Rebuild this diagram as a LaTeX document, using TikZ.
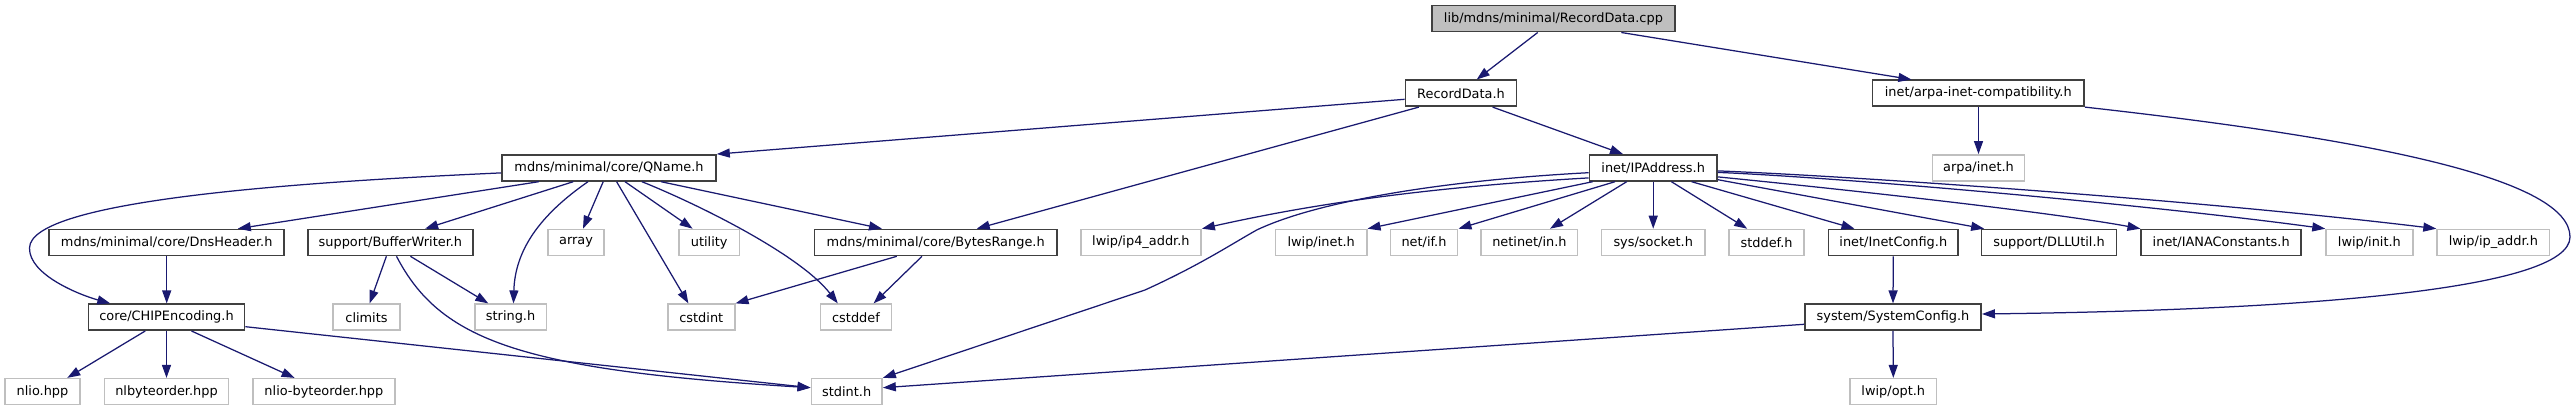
\documentclass[tikz,border=0pt]{standalone}
\usepackage{fontspec}
\setmainfont{DejaVu Sans}
\usetikzlibrary{arrows.meta}
\definecolor{edgec}{HTML}{191970}
\definecolor{boxc}{HTML}{404040}
\definecolor{missc}{HTML}{BFBFBF}
\begin{document}
\begin{tikzpicture}[x=1pt,y=-1pt,
  box/.style={draw=boxc,line width=1.6pt,minimum height=26pt,inner sep=0pt,font=\fontsize{12.9}{15}\selectfont,text=black},
  miss/.style={box,draw=missc},
  root/.style={box,fill=missc},
  dep/.style={draw=edgec,line width=1.25pt,-{Triangle[length=13pt,width=9pt]}}]
\fill[white] (0,0) rectangle (2576,411);
\useasboundingbox (0,0) rectangle (2576,411);
% row 0
\node[root,minimum width=243.3pt] (top) at (1553.4,18.7) {lib/mdns/minimal/RecordData.cpp};
% row 1
\node[box,minimum width=111.2pt] (rd) at (1461,93.3) {RecordData.h};
\node[box,minimum width=211.4pt] (arpa) at (1978.3,93.3) {inet/arpa-inet-compatibility.h};
% row 2
\node[box,minimum width=214pt] (qname) at (609,167.9) {mdns/minimal/core/QName.h};
\node[box,minimum width=127.5pt] (ipaddr) at (1653.2,167.9) {inet/IPAddress.h};
\node[miss,minimum width=92.2pt] (arpainet) at (1978.5,167.9) {arpa/inet.h};
% row 3
\node[box,minimum width=234.9pt] (dns) at (166.7,242.5) {mdns/minimal/core/DnsHeader.h};
\node[box,minimum width=165.4pt] (bw) at (390.4,242.5) {support/BufferWriter.h};
\node[miss,minimum width=56pt] (array) at (576,242.5) {array};
\node[miss,minimum width=60.2pt] (utility) at (709.2,242.5) {utility};
\node[box,minimum width=242.8pt] (bytes) at (935.7,242.5) {mdns/minimal/core/BytesRange.h};
\node[miss,minimum width=120.4pt] (ip4) at (1140.9,242.5) {lwip/ip4\_addr.h};
\node[miss,minimum width=91.1pt] (lwipinet) at (1321.2,242.5) {lwip/inet.h};
\node[miss,minimum width=67.3pt] (netif) at (1424,242.5) {net/if.h};
\node[miss,minimum width=96.4pt] (netinet) at (1529.4,242.5) {netinet/in.h};
\node[miss,minimum width=103.1pt] (syssock) at (1653.2,242.5) {sys/socket.h};
\node[miss,minimum width=74.9pt] (stddefh) at (1766.6,242.5) {stddef.h};
\node[box,minimum width=129.6pt] (inetcfg) at (1893.3,242.5) {inet/InetConfig.h};
\node[box,minimum width=134.7pt] (dll) at (2049,242.5) {support/DLLUtil.h};
\node[box,minimum width=159.9pt] (iana) at (2221.2,242.5) {inet/IANAConstants.h};
\node[miss,minimum width=86.7pt] (init) at (2369.4,242.5) {lwip/init.h};
\node[miss,minimum width=112.4pt] (ipaddrh) at (2493.3,242.5) {lwip/ip\_addr.h};
% row 4
\node[box,minimum width=156.1pt] (chip) at (166.5,317.2) {core/CHIPEncoding.h};
\node[miss,minimum width=67pt] (climits) at (366.5,317.2) {climits};
\node[miss,minimum width=71.5pt] (stringh) at (510.6,317.2) {string.h};
\node[miss,minimum width=66.9pt] (cstdint) at (701.3,317.2) {cstdint};
\node[miss,minimum width=70.7pt] (cstddef) at (856,317.2) {cstddef};
\node[box,minimum width=176.3pt] (syscfg) at (1893,317.2) {system/SystemConfig.h};
% row 5
\node[miss,minimum width=75pt] (nlio) at (42.5,391.7) {nlio.hpp};
\node[miss,minimum width=124.2pt] (nlbyte) at (166.5,391.7) {nlbyteorder.hpp};
\node[miss,minimum width=141.8pt] (nliobyte) at (323.9,391.7) {nlio-byteorder.hpp};
\node[miss,minimum width=70.7pt] (stdint) at (846.7,391.7) {stdint.h};
\node[miss,minimum width=86.7pt] (opt) at (1893.3,391.7) {lwip/opt.h};
% edges
\draw[dep] ([xshift=-15.7pt]top.south) -- ([xshift=15.7pt]rd.north);
\draw[dep] ([xshift=67.9pt]top.south) -- ([xshift=-66.9pt]arpa.north);
\draw[dep] ([yshift=-6pt]rd.west) -- (qname.north east);
\draw[dep] ([xshift=-42.1pt]rd.south) -- ([xshift=41pt]bytes.north);
\draw[dep] ([xshift=31.6pt]rd.south) -- ([xshift=-30.2pt]ipaddr.north);
\draw[dep] (arpa.south -| arpainet) -- (arpainet.north);
\draw[dep] (arpa.south east) .. controls (2380,140) and (2570,180) .. (2570,237) .. controls (2570,290) and (2300,310) .. ([yshift=3.2pt]syscfg.east);
\draw[dep] ([yshift=-5pt]qname.west) .. controls (300,182) and (30,200) .. (29.5,248) .. controls (29,275) and (80,295) .. ([xshift=-56.2pt]chip.north);
\draw[dep] ([xshift=-70.2pt]qname.south) -- ([xshift=71.1pt]dns.north);
\draw[dep] ([xshift=-35.7pt]qname.south) -- ([xshift=34.7pt]bw.north);
\draw[dep] ([xshift=-21pt]qname.south) .. controls (540,215) and (515,250) .. ([xshift=2.9pt]stringh.north);
\draw[dep] ([xshift=-5.8pt]qname.south) -- ([xshift=7pt]array.north);
\draw[dep] ([xshift=7.6pt]qname.south) -- ([xshift=-12.9pt]cstdint.north);
\draw[dep] ([xshift=16pt]qname.south) -- ([xshift=-16.6pt]utility.north);
\draw[dep] ([xshift=32.9pt]qname.south) .. controls (700,205) and (800,255) .. ([xshift=-18.2pt]cstddef.north);
\draw[dep] ([xshift=52pt]qname.south) -- ([xshift=-53.7pt]bytes.north);
\draw[dep] (dns.south) -- (dns.south |- chip.north);
\draw[dep] ([xshift=-4pt]bw.south) -- ([xshift=3.1pt]climits.north);
\draw[dep] ([xshift=20pt]bw.south) -- ([xshift=-22.3pt]stringh.north);
\draw[dep] ([xshift=6.1pt]bw.south) .. controls (440,340) and (520,370) .. ([yshift=4pt]stdint.west);
\draw[dep] ([xshift=-21.3pt]chip.south) -- ([xshift=24.8pt]nlio.north);
\draw[dep] (chip.south) -- (nlbyte.north);
\draw[dep] ([xshift=25pt]chip.south) -- ([xshift=-29.3pt]nliobyte.north);
\draw[dep] ([yshift=-9.5pt]chip.east) -- ([yshift=4pt]stdint.west);
\draw[dep] ([xshift=-38.9pt]bytes.south) -- (cstdint.north east);
\draw[dep] ([xshift=-13.7pt]bytes.south) -- ([xshift=17.6pt]cstddef.north);
\draw[dep] ([yshift=-10pt]ipaddr.west) .. controls (1450,186) and (1330,200) .. (ip4.north east);
\draw[dep] ([yshift=-4.8pt]ipaddr.west) .. controls (1450,180) and (1320,200) .. (1256.7,230) .. controls (1230,245) and (1200,265) .. (1145,290) -- (stdint.north east);
\draw[dep] ([xshift=4pt]ipaddr.south west) -- (lwipinet.north east);
\draw[dep] ([xshift=-38.2pt]ipaddr.south) -- (netif.north east);
\draw[dep] ([xshift=-26.5pt]ipaddr.south) -- ([xshift=20.6pt]netinet.north);
\draw[dep] (ipaddr.south) -- (syssock.north);
\draw[dep] ([xshift=18.2pt]ipaddr.south) -- ([xshift=-19.4pt]stddefh.north);
\draw[dep] ([xshift=38.4pt]ipaddr.south) -- ([xshift=-38.8pt]inetcfg.north);
\draw[dep] ([yshift=2pt]ipaddr.south east) -- ([xshift=3.3pt]dll.north west);
\draw[dep] ([yshift=-9pt]ipaddr.east) .. controls (1850,190) and (2050,212) .. (iana.north west);
\draw[dep] ([yshift=-4.5pt]ipaddr.east) .. controls (1850,178) and (2150,205) .. (init.north west);
\draw[dep] ([yshift=-3pt]ipaddr.east) .. controls (1850,176) and (2200,200) .. (ipaddrh.north west);
\draw[dep] (inetcfg.south) -- (syscfg.north);
\draw[dep] (syscfg.south) -- (opt.north);
\draw[dep] ([yshift=-7.1pt]syscfg.west) -- ([yshift=4pt]stdint.east);
\end{tikzpicture}
\end{document}
